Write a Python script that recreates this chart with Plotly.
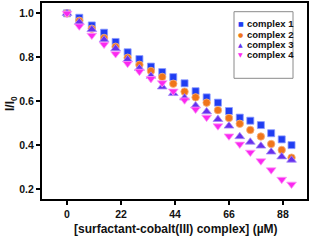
import plotly.graph_objects as go

# concentration of surfactant-cobalt(III) complex (µM)
conc = [0, 5.0, 10.1, 15.1, 19.8, 24.7, 29.5, 34.2, 38.8, 43.3, 47.9,
        52.4, 56.9, 61.5, 66.0, 70.4, 74.7, 79.0, 83.2, 87.5, 91.5]

complex1 = [1.0, 0.98, 0.945, 0.912, 0.870, 0.823, 0.792, 0.758, 0.733, 0.710, 0.682,
            0.646, 0.618, 0.594, 0.556, 0.526, 0.512, 0.492, 0.455, 0.427, 0.401]
complex2 = [1.0, 0.966, 0.930, 0.888, 0.848, 0.798, 0.766, 0.738, 0.711, 0.680, 0.644,
            0.618, 0.594, 0.560, 0.524, 0.498, 0.470, 0.440, 0.406, 0.379, 0.344]
complex3 = [1.0, 0.960, 0.927, 0.880, 0.840, 0.790, 0.750, 0.715, 0.666, 0.636, 0.616,
            0.580, 0.553, 0.518, 0.488, 0.440, 0.415, 0.397, 0.370, 0.348, 0.333]
complex4 = [1.0, 0.942, 0.900, 0.859, 0.816, 0.772, 0.736, 0.703, 0.684, 0.646, 0.606,
            0.564, 0.527, 0.488, 0.442, 0.405, 0.368, 0.329, 0.288, 0.245, 0.223]

names = ["complex 1", "complex 2", "complex 3", "complex 4"]
series = [complex1, complex2, complex3, complex4]
colors = ["#1f3df2", "#f0761a", "#6530ee", "#fb28f0"]
edges = ["#8c9aff", "#f7b27e", "#a88cf8", "#fd9cf8"]
symbols = ["square", "circle", "triangle-up", "triangle-down"]
sizes = [7, 7.5, 8.5, 8.5]
glyphs = ["■", "●", "▲", "▼"]

x_ticks = [0, 22, 44, 66, 88]
y_ticks = [0.2, 0.4, 0.6, 0.8, 1.0]

FONT = "Arial, Liberation Sans, sans-serif"

fig = go.Figure()
for name, ys, c, e, s, sz in zip(names, series, colors, edges, symbols, sizes):
    fig.add_trace(go.Scatter(
        x=conc, y=ys, mode="markers", name=name, showlegend=False,
        marker=dict(symbol=s, size=sz, color=c, line=dict(color=e, width=0.8)),
    ))

L, R, T, B = 42, 307, 3, 199
W, H = R - L, B - T
def px(xp):
    return (xp - L) / W
def py(yp):
    return (B - yp) / H

# legend box
fig.add_shape(type="rect", xref="paper", yref="paper",
              x0=px(234), x1=px(293), y0=py(78.3), y1=py(11.7),
              line=dict(color="#8a8a8a", width=1), fillcolor="rgba(0,0,0,0)")

entry_y = [24, 34, 44.3, 55]
for name, c, g, ey in zip(names, colors, glyphs, entry_y):
    fig.add_annotation(
        xref="paper", yref="paper", x=px(240.7), y=py(ey),
        xanchor="center", yanchor="middle", showarrow=False, borderpad=0,
        text=g, font=dict(family="DejaVu Sans", size=6, color=c),
    )
    fig.add_annotation(
        xref="paper", yref="paper", x=px(245.5), y=py(ey),
        xanchor="left", yanchor="middle", showarrow=False, borderpad=0,
        text=f"<b>{name}</b>", font=dict(family=FONT, size=9.5, color="#111"),
    )

# axis titles
fig.add_annotation(
    xref="paper", yref="paper", x=px(176), y=py(228.5),
    xanchor="center", yanchor="middle", showarrow=False, borderpad=0,
    text="<b>[surfactant-cobalt(III) complex] (µM)</b>",
    font=dict(family=FONT, size=12, color="#111"),
)
fig.add_annotation(
    xref="paper", yref="paper", x=px(11), y=py(104),
    xanchor="center", yanchor="middle", showarrow=False, borderpad=0, textangle=-90,
    text="<b>I/I<sub>0</sub></b>",
    font=dict(family=FONT, size=12, color="#111"),
)

fig.update_layout(
    width=312, height=241,
    margin=dict(l=L, r=312 - R, t=T, b=241 - B),
    paper_bgcolor="white", plot_bgcolor="white",
    font=dict(family=FONT, color="#111"),
    showlegend=False,
)
fig.update_xaxes(
    range=[-10.2, 97.8], tickvals=x_ticks, ticktext=[f"<b>{v}</b>" for v in x_ticks],
    showgrid=False, zeroline=False, showline=True, linecolor="black", linewidth=2,
    mirror=True, ticks="outside", ticklen=4, tickwidth=1.5, tickcolor="black",
    tickfont=dict(size=10.5, family=FONT, color="#111"), automargin=False,
)
fig.update_yaxes(
    range=[0.156, 1.047], tickvals=y_ticks, ticktext=[f"<b>{v:.1f}</b>" for v in y_ticks],
    showgrid=False, zeroline=False, showline=True, linecolor="black", linewidth=2,
    mirror=True, ticks="outside", ticklen=4, tickwidth=1.5, tickcolor="black",
    tickfont=dict(size=10.5, family=FONT, color="#111"), automargin=False,
)

fig.write_html("out.html", config={"displayModeBar": False},
               post_script="document.body.style.margin='0';document.body.style.padding='0';")
